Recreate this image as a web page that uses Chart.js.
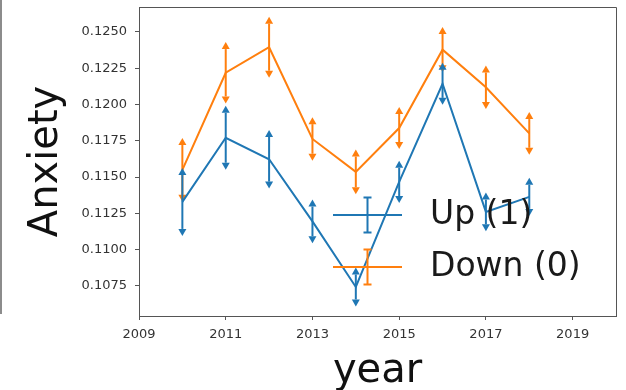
<!DOCTYPE html>
<html><head><meta charset="utf-8">
<script src="https://cdn.jsdelivr.net/npm/chart.js@4.4.0/dist/chart.umd.min.js"></script>
<style>
html,body{margin:0;padding:0;background:#fff;}
#wrap{position:relative;width:626px;height:390px;overflow:hidden;}
#edge{position:absolute;left:0;top:0;width:2px;height:314px;background:#8c8c8c;}
canvas{position:absolute;left:0;top:0;}
</style></head><body>
<div id="wrap"><canvas id="c" width="626" height="390"></canvas><div id="edge"></div></div>
<script>
const years = [2010, 2011, 2012, 2013, 2014, 2015, 2016, 2017, 2018];
const upValues   = [0.11329, 0.11771, 0.11623, 0.11195, 0.10743, 0.11467, 0.12143, 0.11260, 0.11364];
const upErrors   = [0.00186, 0.00172, 0.00154, 0.00102, 0.00086, 0.00097, 0.00097, 0.00085, 0.00083];
const downValues = [0.11550, 0.12219, 0.12395, 0.11763, 0.11536, 0.11838, 0.12378, 0.12119, 0.11801];
const downErrors = [0.00172, 0.00163, 0.00162, 0.00102, 0.00106, 0.00097, 0.00108, 0.00102, 0.00099];
const seriesLabels = ['Up (1)', 'Down (0)'];
const xTickValues = [2009, 2011, 2013, 2015, 2017, 2019];
const yTickValues = [0.1075, 0.1100, 0.1125, 0.1150, 0.1175, 0.1200, 0.1225, 0.1250];
const xTitle = 'year';
const yTitle = 'Anxiety';

const BLUE = '#1f77b4', ORANGE = '#ff7f0e';
const FONT = 'DejaVu Sans';
const errorSets = [upErrors, downErrors];

const errorBarPlugin = {
  id: 'errorBars',
  afterDatasetDraw(chart, args) {
    const i = args.index;
    const ds = chart.data.datasets[i];
    const errs = errorSets[i];
    const xs = chart.scales.x, ys = chart.scales.y;
    const ctx = chart.ctx;
    ctx.save();
    ctx.strokeStyle = ds.borderColor;
    ctx.fillStyle = ds.borderColor;
    ctx.lineWidth = 2;
    ds.data.forEach((p, k) => {
      const x = xs.getPixelForValue(p.x);
      const yTop = ys.getPixelForValue(p.y + errs[k]);
      const yBot = ys.getPixelForValue(p.y - errs[k]);
      ctx.beginPath();
      ctx.moveTo(x, yTop); ctx.lineTo(x, yBot); ctx.stroke();
      const w = 4, h = 7;
      ctx.beginPath();
      ctx.moveTo(x - w, yTop); ctx.lineTo(x + w, yTop); ctx.lineTo(x, yTop - h); ctx.closePath(); ctx.fill();
      ctx.beginPath();
      ctx.moveTo(x - w, yBot); ctx.lineTo(x + w, yBot); ctx.lineTo(x, yBot + h); ctx.closePath(); ctx.fill();
    });
    ctx.restore();
  }
};

const framePlugin = {
  id: 'frame',
  afterDraw(chart) {
    const {ctx, chartArea: a} = chart;
    ctx.save();
    ctx.strokeStyle = '#555';
    ctx.lineWidth = 1;
    ctx.beginPath();
    ctx.moveTo(a.left, a.top + 0.5); ctx.lineTo(a.right + 0.5, a.top + 0.5); ctx.lineTo(a.right + 0.5, a.bottom);
    ctx.stroke();
    ctx.restore();
  }
};

const legendPlugin = {
  id: 'errLegend',
  afterDraw(chart) {
    const ctx = chart.ctx;
    ctx.save();
    chart.data.datasets.forEach((ds, i) => {
      const y = 215 + i * 52;
      ctx.strokeStyle = ds.borderColor;
      ctx.lineWidth = 2;
      ctx.beginPath();
      ctx.moveTo(333, y); ctx.lineTo(402, y);
      ctx.moveTo(367.5, y - 17.5); ctx.lineTo(367.5, y + 17.5);
      ctx.moveTo(363.5, y - 17.5); ctx.lineTo(371.5, y - 17.5);
      ctx.moveTo(363.5, y + 17.5); ctx.lineTo(371.5, y + 17.5);
      ctx.stroke();
      ctx.fillStyle = '#1a1a1a';
      ctx.font = '33px "' + FONT + '"';
      ctx.textAlign = 'left';
      ctx.textBaseline = 'middle';
      ctx.fillText(ds.label, 430, y);
    });
    ctx.restore();
  }
};

const mkData = (vals) => years.map((yr, k) => ({x: yr, y: vals[k]}));

new Chart(document.getElementById('c'), {
  type: 'line',
  data: {
    datasets: [
      {label: seriesLabels[0], data: mkData(upValues), borderColor: BLUE, backgroundColor: BLUE, borderWidth: 2, pointRadius: 0, tension: 0, fill: false},
      {label: seriesLabels[1], data: mkData(downValues), borderColor: ORANGE, backgroundColor: ORANGE, borderWidth: 2, pointRadius: 0, tension: 0, fill: false}
    ]
  },
  options: {
    responsive: false,
    animation: false,
    devicePixelRatio: 1,
    layout: {padding: {left: 0, top: 7, right: 10, bottom: 0}},
    plugins: {legend: {display: false}, tooltip: {enabled: false}},
    scales: {
      x: {
        type: 'linear', position: 'bottom', min: 2009, max: 2020,
        afterBuildTicks: s => { s.ticks = xTickValues.map(v => ({value: v})); },
        afterFit: s => { s.height = 74; s.paddingLeft = 0; s.paddingRight = 0; },
        grid: {display: true, drawOnChartArea: false, drawTicks: true, tickLength: 4, color: '#555', lineWidth: 1},
        border: {display: true, color: '#555', width: 1},
        ticks: {font: {family: FONT, size: 13}, color: '#333', padding: 7, maxRotation: 0, autoSkip: false, callback: v => String(v)},
        title: {display: true, text: xTitle, font: {family: FONT, size: 40, lineHeight: 0.9}, color: '#111', padding: {top: 0, bottom: 0}}
      },
      y: {
        type: 'linear', position: 'left', min: 0.10543, max: 0.12672,
        afterBuildTicks: s => { s.ticks = yTickValues.map(v => ({value: v})); },
        afterFit: s => { s.width = 139; s.paddingTop = 0; s.paddingBottom = 0; },
        grid: {display: true, drawOnChartArea: false, drawTicks: true, tickLength: 4, color: '#555', lineWidth: 1},
        border: {display: true, color: '#555', width: 1},
        ticks: {font: {family: FONT, size: 13}, color: '#333', padding: 8, autoSkip: false, callback: v => Number(v).toFixed(4)},
        title: {display: true, text: yTitle, font: {family: FONT, size: 40, lineHeight: 1.2}, color: '#111', padding: {top: 23, bottom: 0}}
      }
    }
  },
  plugins: [errorBarPlugin, framePlugin, legendPlugin]
});
</script>
</body></html>
